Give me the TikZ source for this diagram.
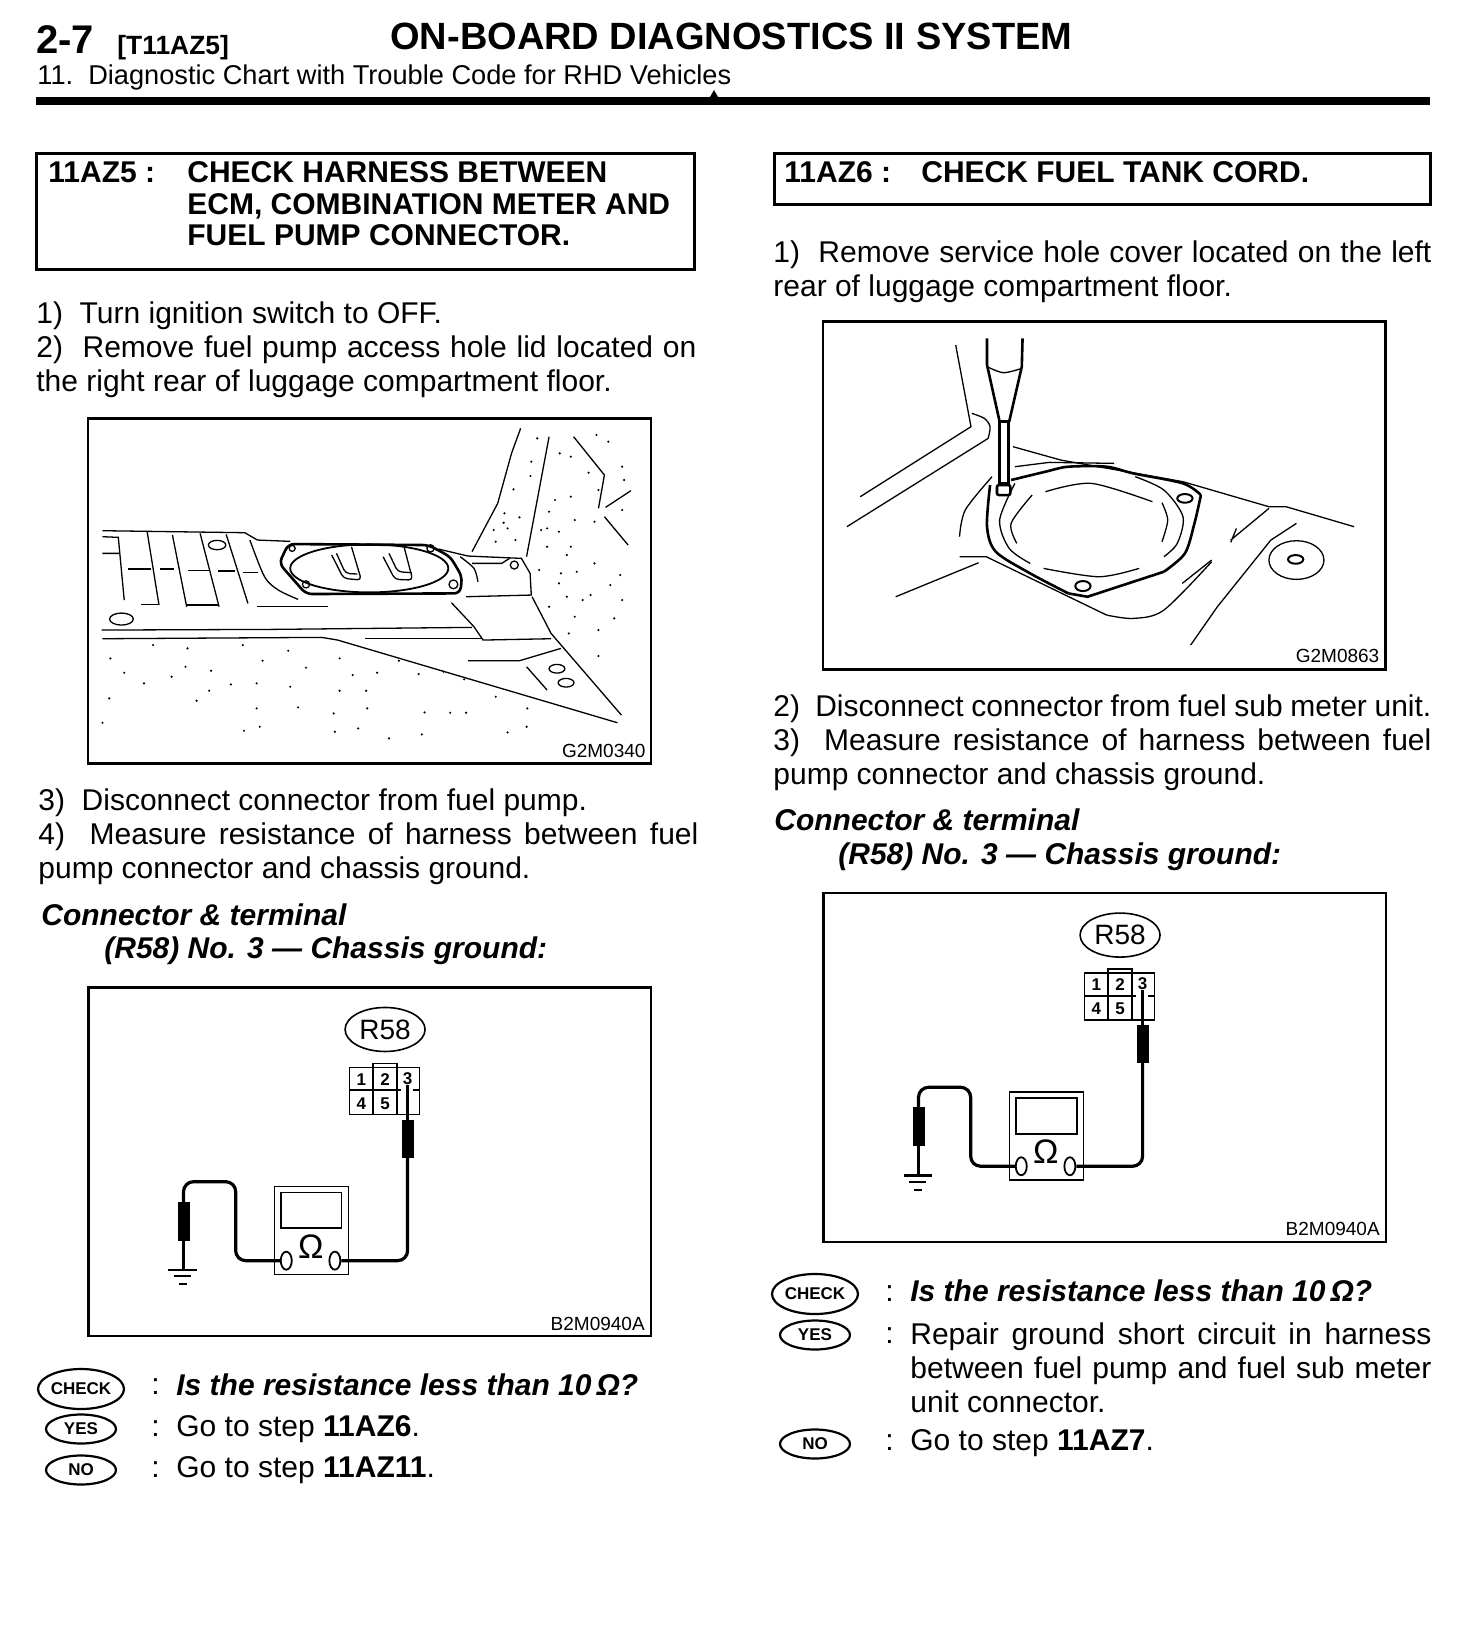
\documentclass[tikz,border=0pt]{standalone}
\usepackage{fontspec}
\setmainfont{Liberation Sans}
\usepackage{tikz}
\usetikzlibrary{shapes.geometric}
\tikzset{
  bodytext/.style={inner sep=0pt, anchor=north west, text width=330pt, align=justify, font=\fontsize{15}{17}\selectfont},
  plainline/.style={inner sep=0pt, anchor=base west, font=\fontsize{15}{17}\selectfont},
  boldline/.style={inner sep=0pt, anchor=base west, font=\bfseries\fontsize{15}{15.9}\selectfont},
  specline/.style={inner sep=0pt, anchor=base west, font=\bfseries\itshape\fontsize{15}{16}\selectfont},
  headbox/.style={draw, line width=1.5pt, inner sep=0pt, anchor=north west},
  checkoval/.style={draw, ellipse, line width=1.1pt, inner sep=0pt, minimum width=43pt, minimum height=20pt, font=\bfseries\fontsize{8.5}{9}\selectfont},
  answeroval/.style={draw, ellipse, line width=1.1pt, inner sep=0pt, minimum width=35pt, minimum height=14.5pt, font=\bfseries\fontsize{8.5}{9}\selectfont},
  figframe/.style={line width=1.2pt},
  figline/.style={line width=0.65pt},
  figheavy/.style={line width=1.3pt},
  figlabel/.style={inner sep=0pt, anchor=base east, font=\fontsize{9.5}{9.5}\selectfont},
  pinlabel/.style={inner sep=0pt, font=\bfseries\fontsize{8.5}{9}\selectfont},
  testwire/.style={line width=1.6pt, rounded corners=5pt},
  proberod/.style={fill=black, draw=black, inner sep=0pt, minimum width=5.5pt},
  meterjack/.style={draw, ellipse, line width=0.9pt, inner sep=0pt, minimum width=5.5pt, minimum height=9pt},
}
\newcommand{\meterfig}[3]{%
  \begin{scope}[shift={(#1,#2)}, x=0.1976pt, y=-0.168pt]
    \draw[figframe] (70,52) rectangle (1493,1090);
    \node[draw, ellipse, line width=0.8pt, inner sep=0pt, minimum width=40pt, minimum height=22pt, font=\fontsize{14}{14}\selectfont] (#3conn) at (820,177) {R58};
    % connector cavities
    \draw[figline, line width=0.9pt] (730,290) rectangle (907,430);
    \draw[figline, line width=0.9pt] (730,358) -- (860,358) (890,358) -- (907,358) (790,278) rectangle (850,358) (790,358) -- (790,430) (850,358) -- (850,430);
    \node[pinlabel] (#3pina) at (760,325) {1};
    \node[pinlabel] (#3pinb) at (820,325) {2};
    \node[pinlabel] (#3pinc) at (877,322) {3};
    \node[pinlabel] (#3pind) at (760,397) {4};
    \node[pinlabel] (#3pine) at (820,397) {5};
    % tester
    \node[draw, line width=0.8pt, inner sep=0pt, minimum width=37pt, minimum height=44pt, anchor=north west] (#3meter) at (538,642) {};
    \draw[line width=0.9pt] (556,662) rectangle (710,768);
    \node[inner sep=0pt, font=\fontsize{17}{17}\selectfont] (#3ohm) at (632,822) {Ω};
    \node[meterjack] (#3jackl) at (570,865) {};
    \node[meterjack] (#3jackr) at (693,865) {};
    \node[proberod, minimum height=18.5pt, anchor=north] (#3proberight) at (877,445) {};
    \node[proberod, minimum height=19pt, anchor=north] (#3probeleft) at (310,690) {};
    \coordinate (#3earth) at (310,893);
    \draw[testwire] (#3jackr.east) -| (#3proberight.south);
    \draw[testwire] (#3jackl.west) -| (442,630) -| (#3probeleft.north);
    \draw[line width=1.6pt] (#3proberight.north) -- (#3pinc.south);
    \draw[line width=1.6pt] (#3probeleft.south) -- (#3earth);
    \draw[line width=1.4pt] (272,893) -- (345,893);
    \draw[line width=1pt] (285,912) -- (330,912);
    \draw[line width=1pt] (298,935) -- (320,935);
    \node[figlabel] (#3code) at (1478,1072) {B2M0940A};
  \end{scope}}

\begin{document}
\begin{tikzpicture}[x=0.5pt, y=-0.5pt]
  \useasboundingbox[fill=white] (0,0) rectangle (1472,1640);

  % page head
  \node[inner sep=0pt, anchor=base west, font=\bfseries\fontsize{20}{20}\selectfont] (pageno) at (36,53) {2-7};
  \node[inner sep=0pt, anchor=base west, font=\bfseries\fontsize{13.2}{13}\selectfont] (pagecode) at (117,54) {[T11AZ5]};
  \node[inner sep=0pt, anchor=base west, font=\bfseries\fontsize{19}{20}\selectfont] (pagetitle) at (390,49) {ON-BOARD DIAGNOSTICS II SYSTEM};
  \node[inner sep=0pt, anchor=base west, font=\fontsize{13.6}{14}\selectfont] (pagesub) at (37,84) {11.~~Diagnostic Chart with Trouble Code for RHD Vehicles};
  \draw[line width=4pt] (36,101) -- (1427,101) -- (1430,101);
  \fill (710,97) -- (714,90) -- (718,97) -- cycle;

  % step 11AZ5
  \draw[headbox] (36,153) rectangle (694,269);
  \node[boldline] (leftstep) at (48,182) {11AZ5 :};
  \node[boldline, align=left, anchor=north west] (lefthead) at (187,161) {CHECK HARNESS BETWEEN\\[0pt]ECM, COMBINATION METER AND\\FUEL PUMP CONNECTOR.};
  \node[bodytext] (leftone) at (36,301) {1)~~Turn ignition switch to OFF.\par 2)~~Remove fuel pump access hole lid located on\linebreak the right rear of luggage compartment floor.};

  \begin{scope}[shift={(30.5pt,-200pt)}, x=0.1976pt, y=-0.1667pt]
    \draw[figframe] (68,55) rectangle (1493,1090);
    \draw[figline] (105,392) -- (465,398) -- (497,420) -- (580,424);
    \draw[figline] (105,410) -- (145,412) -- (160,600) (105,460) -- (150,460);
    \draw[figline] (218,395) -- (248,615) (282,405) -- (318,620) (352,400) -- (400,620) (418,403) -- (473,610);
    \draw[figline] plot[smooth] coordinates {(478,420) (515,530) (550,570) (600,598)};
    \draw[figline] (170,507) -- (228,507) (250,507) -- (285,507) (322,512) -- (375,512) (398,513) -- (440,513) (460,518) -- (498,518);
    \draw[figline] (203,614) -- (245,614) (320,615) -- (400,615) (497,620) -- (675,620);
    \draw[figline] (395,435) ellipse[x radius=22, y radius=14] (153,657) ellipse[x radius=30, y radius=18];
    \draw[figline] (103,690) -- (535,688) -- (1040,682);
    \draw[figline] (988,608) -- (1045,680) -- (1068,720) -- (1240,716);
    \draw[figline] (105,716) -- (660,712) -- (700,720) -- (1408,968);
    \draw[figline] (770,716) -- (1065,716);
    \draw[figline] (1030,782) -- (1160,782) -- (1265,745) (1178,800) -- (1230,870);
    \draw[figline] (1255,806) ellipse[x radius=20, y radius=13] (1278,848) ellipse[x radius=20, y radius=13];
    \draw[figline] (1192,590) -- (1240,700) -- (1418,945);
    \draw[figheavy, rounded corners=3pt] (575,432) -- (930,435) -- (985,470) -- (1015,530) -- (1010,580) -- (620,582) -- (552,490) -- cycle;
    \draw[figline, line width=0.9pt] (780,505) ellipse[x radius=200, y radius=72];
    \draw[figline, rounded corners=2pt] (685,465) -- (715,535) -- (760,540) -- (735,440) (697,460) -- (720,520) -- (750,522);
    \draw[figline, rounded corners=2pt] (815,470) -- (845,538) -- (890,540) -- (868,440) (830,460) -- (852,515) -- (888,518);
    \draw[figline] (585,445) circle[radius=1.5pt] (620,553) circle[radius=1.8pt] (993,553) circle[radius=2.2pt] (935,445) circle[radius=1.8pt] (1147,495) circle[radius=2pt];
    \draw[figline] (955,447) -- (1030,468) -- (1165,475) -- (1187,520) -- (1190,585) -- (1025,590);
    \draw[figline] (1040,490) -- (1115,490) -- (1135,475);
    \draw[figline] plot[smooth] coordinates {(1010,470) (1045,505) (1055,545)};
    \draw[figline] (1163,85) -- (1140,160) -- (1105,310) -- (1040,455);
    \draw[figline] (1235,110) -- (1205,300) -- (1178,470);
    \draw[figline] (1297,110) -- (1375,225) -- (1360,325) (1375,350) -- (1435,435) (1378,322) -- (1442,272);
    % stippling
    \foreach \dotx/\doty in {233/735,320/745,460/735,575/752,705/775,855/782,125/775,315/800,380/812,510/782,620/803,738/825,800/818,905/822,968/815,160/818,210/850,280/830,375/872,430/853,495/850,580/860,705/872,772/872,1020/838,122/895,343/902,495/925,600/922,690/940,775/925,920/937,985/938,1025/938,1100/890,1180/925,105/968,463/992,503/980,693/995,752/985,830/1015,913/1003,1130/997,1178/980,1190/185,1188/228,1145/268,1122/340,1160/352,1120/368,1095/390,1130/385,1100/425,1150/420,1205/115,1262/160,1290/170,1335/218,1420/200,1425/240,1355/105,1385/125,1250/300,1290/290,1235/335,1215/390,1230/385,1260/395,1300/360,1350/365,1420/330,1360/270,1210/510,1265/520,1305/515,1350/490,1415/525,1390/555,1340/585,1280/590,1260/550,1420/600,1300/650,1360/690,1400/655,1285/700,1360/768,1235/620,1320/600,1290/440,1230/440,1280/465}
      \fill (\dotx,\doty) circle[radius=0.6pt];
    \node[figlabel] (leftcode) at (1480,1072) {G2M0340};
  \end{scope}

  \node[bodytext] (lefttwo) at (38,788) {3)~~Disconnect connector from fuel pump.\par 4)~~Measure resistance of harness between fuel\linebreak pump connector and chassis ground.};
  \node[specline] (leftspec) at (41,925) {Connector \& terminal};
  \node[specline] (leftspecb) at (104,958) {(R58) No. 3 — Chassis ground:};
  \meterfig{30.5pt}{-485pt}{lt}

  \node[checkoval] (leftcheck) at (81,1389) {CHECK};
  \node[answeroval] (leftyes) at (81,1429) {YES};
  \node[answeroval] (leftno) at (81,1470) {NO};
  \node[plainline] (leftcolona) at (151,1394) {:};
  \node[plainline] (leftcolonb) at (151,1436) {:};
  \node[plainline] (leftcolonc) at (151,1477) {:};
  \node[specline] (leftquest) at (176,1395) {Is the resistance less than 10\,Ω?};
  \node[plainline] (leftans) at (176,1436) {Go to step \textbf{11AZ6}.};
  \node[plainline] (leftansb) at (176,1477) {Go to step \textbf{11AZ11}.};

  % step 11AZ6
  \draw[headbox] (774,153) rectangle (1430,204);
  \node[boldline] (rightstep) at (784,182) {11AZ6 :};
  \node[boldline] (righthead) at (921,182) {CHECK FUEL TANK CORD.};
  \node[bodytext, text width=329pt] (rightone) at (773,240) {1)~~Remove service hole cover located on the left\linebreak rear of luggage compartment floor.};

  \begin{scope}[shift={(400.5pt,-155pt)}, x=0.191pt, y=-0.1667pt]
    \draw[figframe] (58,35) rectangle (1530,1078);
    \draw[figline] (405,105) -- (445,350) -- (155,560);
    \draw[figline] plot[smooth] coordinates {(447,310) (480,325) (495,350) (490,385)};
    \draw[figline] (490,385) -- (120,650);
    \draw[figline] (555,410) -- (680,450) -- (1000,515) -- (1225,590) -- (1270,590) -- (1448,650);
    \draw[figline] (560,470) -- (650,457) -- (820,460);
    \draw[figheavy] (487,85) -- (487,165) -- (520,335) (580,85) -- (578,170) -- (545,335);
    \draw[figline] plot[smooth] coordinates {(487,170) (530,188) (578,175)};
    \draw[figheavy] (520,335) rectangle (543,520);
    \draw[figheavy, rounded corners=1pt] (513,525) rectangle (548,555);
    \draw[figheavy] plot[smooth] coordinates {(495,525) (487,650) (510,725) (600,790) (700,850)};
    \draw[figheavy] (700,850) -- (750,860) -- (950,785);
    \draw[figheavy] plot[smooth] coordinates {(950,785) (1005,730) (1030,640) (1047,555)};
    \draw[figheavy] plot[smooth] coordinates {(550,510) (640,485) (700,470) (800,470) (870,490) (1000,520) (1047,555)};
    \draw[figline] plot[smooth] coordinates {(560,520) (520,630) (545,715) (600,760)};
    \draw[figline] plot[smooth] coordinates {(875,500) (950,540) (1000,620) (985,700) (950,740)};
    \draw[figline] plot[smooth] coordinates {(605,555) (550,640) (565,700)};
    \draw[figline] plot[smooth] coordinates {(640,545) (760,520) (920,575)};
    \draw[figline] plot[smooth] coordinates {(945,578) (960,630) (945,695)};
    \draw[figline] plot[smooth] coordinates {(885,775) (780,800) (635,775)};
    \draw[figline] plot[smooth] coordinates {(500,500) (430,600) (415,680)};
    \draw[figline] (415,740) -- (485,740) -- (800,915);
    \draw[figline] plot[smooth] coordinates {(800,915) (870,925) (950,900) (1075,755)};
    \draw[figline] (465,758) -- (248,860);
    \draw[figline] (998,820) -- (1075,750) (1125,697) -- (1140,655) (1125,690) -- (1225,595);
    \draw[figline] (1020,1005) -- (1090,890) -- (1230,690) -- (1297,640);
    \draw[figline] (1297,750) ellipse[x radius=72, y radius=58];
    \draw[figline, line width=1pt] (1295,748) ellipse[x radius=20, y radius=13] (1005,565) ellipse[x radius=20, y radius=13] (738,828) ellipse[x radius=20, y radius=15];
    \node[figlabel] (rightcode) at (1515,1058) {G2M0863};
  \end{scope}

  \node[bodytext, text width=329pt] (righttwo) at (773,694) {2)~~Disconnect connector from fuel sub meter unit.\linebreak 3)~~Measure resistance of harness between fuel\linebreak pump connector and chassis ground.};
  \node[specline] (rightspec) at (774,830) {Connector \& terminal};
  \node[specline] (rightspecb) at (838,864) {(R58) No. 3 — Chassis ground:};
  \meterfig{398pt}{-437.8pt}{rt}

  \node[checkoval] (rightcheck) at (815,1294) {CHECK};
  \node[answeroval] (rightyes) at (815,1335) {YES};
  \node[answeroval] (rightno) at (815,1444) {NO};
  \node[plainline] (rightcolona) at (885,1301) {:};
  \node[plainline] (rightcolonb) at (885,1343) {:};
  \node[plainline] (rightcolonc) at (885,1450) {:};
  \node[specline] (rightquest) at (910,1301) {Is the resistance less than 10\,Ω?};
  \node[bodytext, text width=260.5pt] (rightans) at (910,1322) {Repair ground short circuit in harness\linebreak between fuel pump and fuel sub meter\linebreak unit connector.};
  \node[plainline] (rightansb) at (910,1450) {Go to step \textbf{11AZ7}.};
\end{tikzpicture}
\end{document}
